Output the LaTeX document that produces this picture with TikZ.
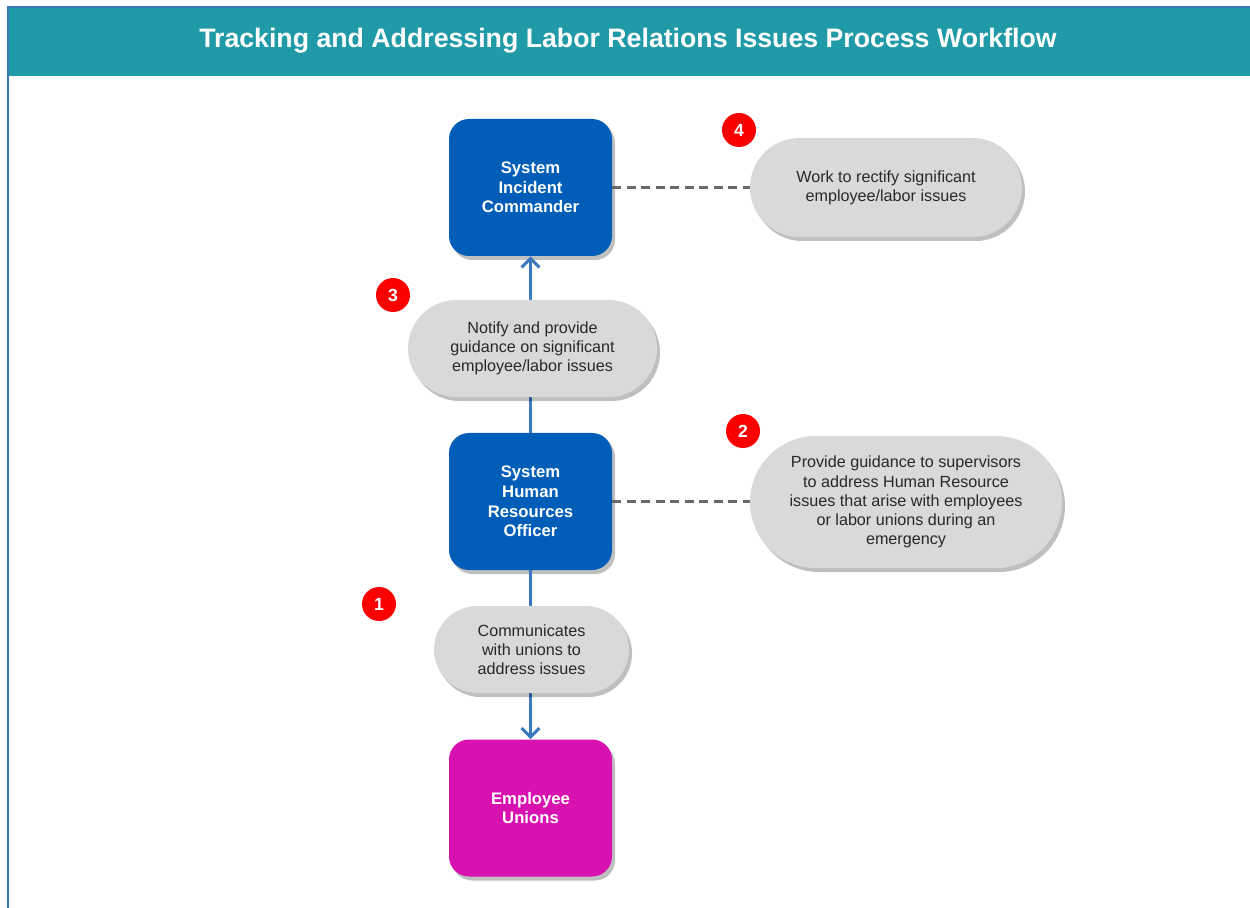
\documentclass[tikz,border=0pt]{standalone}
\usepackage{fontspec}
\setmainfont{Liberation Sans}
\usetikzlibrary{shadows,arrows.meta}

\definecolor{titleteal}{RGB}{33,154,168}
\definecolor{frameblue}{RGB}{62,118,190}
\definecolor{roleblue}{RGB}{0,94,184}
\definecolor{unionpink}{RGB}{216,18,176}
\definecolor{pillgray}{RGB}{217,217,217}
\definecolor{pilltext}{RGB}{40,40,40}
\definecolor{linkblue}{RGB}{58,120,192}
\definecolor{dashgray}{RGB}{105,105,105}
\definecolor{stepred}{RGB}{250,0,0}

\tikzset{
  role/.style={rounded corners=4mm, minimum width=32.6mm, minimum height=27.4mm,
    text=white, align=center, font=\fontsize{9.5}{11.2}\selectfont\bfseries,
    drop shadow={shadow xshift=0.6mm, shadow yshift=-0.8mm, opacity=0.25, fill=black}},
  task/.style={fill=pillgray, text=pilltext, align=center, inner sep=0pt,
    font=\fontsize{9.2}{10.9}\selectfont,
    drop shadow={shadow xshift=0.6mm, shadow yshift=-0.8mm, opacity=0.25, fill=black}},
  num/.style={circle, fill=stepred, text=white, minimum size=6.8mm, inner sep=0pt,
    font=\fontsize{10}{12}\selectfont\bfseries},
  link/.style={linkblue, line width=0.6mm},
  note/.style={dashgray, line width=0.6mm, dash pattern=on 1.8mm off 1.1mm},
}

\begin{document}
\begin{tikzpicture}[x=0.2mm, y=-0.2mm]
  \useasboundingbox (0,0) rectangle (1250,908);

  % title bar and frame
  \fill[titleteal] (7,7) rectangle (1250,76);
  \draw[frameblue, line width=0.4mm] (1250,7) -- (7.5,7) -- (7.5,908);
  \node (title) at (628,41) [text=white, font=\fontsize{15.2}{17}\selectfont\bfseries]
    {Tracking and Addressing Labor Relations Issues Process Workflow};

  % roles
  \node (sic)  at (530.5,187.5) [role, fill=roleblue]  {System\\Incident\\Commander};
  \node (shro) at (530.5,501.5) [role, fill=roleblue]  {System\\Human\\Resources\\Officer};
  \node (eu)   at (530.5,808)   [role, fill=unionpink] {Employee\\Unions};

  % flow between roles
  \draw[link, -{Straight Barb[length=1.8mm,width=3.6mm]}] (shro) -- (sic);
  \draw[link, -{Straight Barb[length=1.8mm,width=3.6mm]}] (shro) -- (eu);

  % tasks
  \node (work)   at (886,187.5)   [task, rounded corners=9.9mm, minimum width=54.4mm, minimum height=19.8mm]
    {Work to rectify significant\\employee/labor issues};
  \node (notify) at (532.5,348.5) [task, rounded corners=9.7mm, minimum width=49.8mm, minimum height=19.4mm]
    {Notify and provide\\guidance on significant\\employee/labor issues};
  \node (guide)  at (906,502)     [task, rounded corners=13.2mm, minimum width=62.4mm, minimum height=26.4mm]
    {Provide guidance to supervisors\\to address Human Resource\\issues that arise with employees\\or labor unions during an\\emergency};
  \node (comm)   at (531.5,649.5) [task, rounded corners=8.7mm, minimum width=39mm, minimum height=17.4mm]
    {Communicates\\with unions to\\address issues};

  \draw[note] (sic.east) -- (sic.east -| work.west);
  \draw[note] (shro.east) -- (shro.east -| guide.west);

  % step numbers
  \node (n1) at (379,604) [num] {1};
  \node (n2) at (743,431) [num] {2};
  \node (n3) at (393,295) [num] {3};
  \node (n4) at (739,130) [num] {4};
\end{tikzpicture}
\end{document}
